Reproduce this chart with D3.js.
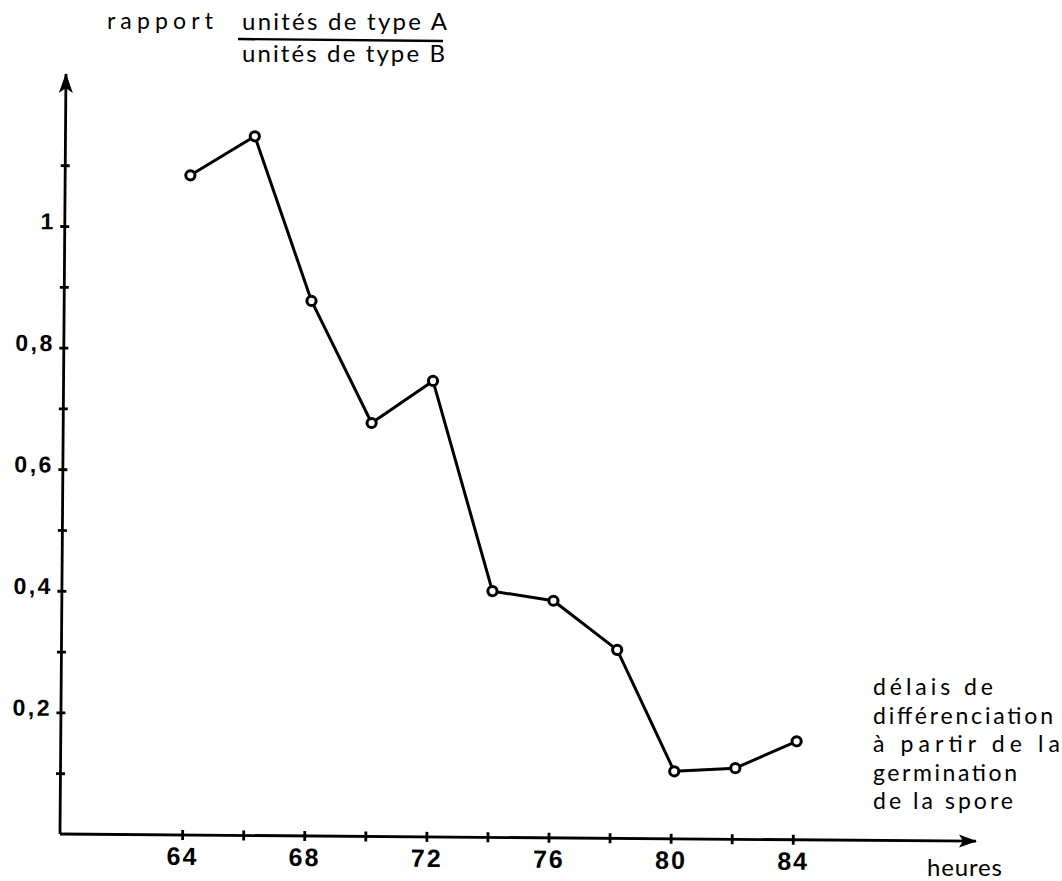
<!DOCTYPE html>
<html>
<head>
<meta charset="utf-8">
<script src="https://cdn.jsdelivr.net/npm/d3@7"></script>
<style>
  html, body { margin: 0; padding: 0; background: #fff; }
  svg { display: block; }
</style>
</head>
<body>
<svg id="chart" width="1062" height="881"></svg>
<script>
// ---- data ----
const hours  = [64.1, 66.2, 68.1, 70.1, 72.1, 74.1, 76.1, 78.2, 80.1, 82.1, 84.1];
const ratios = [1.085, 1.15, 0.88, 0.68, 0.75, 0.405, 0.39, 0.31, 0.111, 0.117, 0.162];
const xTicks  = [64, 66, 68, 70, 72, 74, 76, 78, 80, 82, 84];
const xLabels = [64, 68, 72, 76, 80, 84];
const yTicks  = [0.1, 0.2, 0.3, 0.4, 0.5, 0.6, 0.7, 0.8, 0.9, 1, 1.1];
const yLabels = [0.2, 0.4, 0.6, 0.8, 1];
const titleLeft = "rapport";
const titleNum = "unités de type A";
const titleDen = "unités de type B";
const xNoteLines = ["délais de", "différenciation", "à partir de la", "germination", "de la spore"];
const xUnit = "heures";

// ---- drawing ----
const svg = d3.select("#chart");
const ink = "#000";
const numFont = "'Liberation Sans', Arial, sans-serif";
const txtFont = "Lato, 'Noto Sans', sans-serif";

const defs = svg.append("defs");
defs.append("marker").attr("id", "arrowX")
  .attr("markerUnits", "userSpaceOnUse").attr("viewBox", "0 -7 18 14")
  .attr("markerWidth", 18).attr("markerHeight", 14)
  .attr("refX", 17).attr("refY", 0).attr("orient", "auto")
  .append("path").attr("d", "M0,-6.5L18,0L0,6.5L4,0Z").attr("fill", ink);
defs.append("marker").attr("id", "arrowY")
  .attr("markerUnits", "userSpaceOnUse").attr("viewBox", "0 -7.5 20 15")
  .attr("markerWidth", 20).attr("markerHeight", 15)
  .attr("refX", 19).attr("refY", 0).attr("orient", "auto")
  .append("path").attr("d", "M0,-7L20,0L0,7L5,0Z").attr("fill", ink);

// the scanned original is tilted slightly
const g = svg.append("g").attr("transform", "rotate(0.45,60,834)");

const x = d3.scaleLinear().domain([60, 90]).range([60, 976]);
const y = d3.scaleLinear().domain([0, 1.25]).range([834, 74]);

// x axis
const gx = g.append("g").attr("transform", `translate(0,${y(0)})`)
  .call(d3.axisBottom(x).tickValues(xTicks).tickSize(0).tickSizeOuter(0)
    .tickFormat(d => xLabels.includes(d) ? String(d) : ""));
gx.attr("font-size", null).attr("font-family", null);
gx.select(".domain")
  .attr("d", `M${x(60)},0H${x(90)}`)
  .attr("stroke", ink).attr("stroke-width", 2.8)
  .attr("marker-end", "url(#arrowX)");
gx.selectAll(".tick line").attr("y1", -5).attr("y2", 5)
  .attr("stroke", ink).attr("stroke-width", 2.8);
gx.selectAll(".tick text")
  .attr("y", 30).attr("dy", 0)
  .attr("fill", ink)
  .style("font-family", numFont).style("font-size", "25px")
  .style("font-weight", "bold").style("letter-spacing", "2px");

// y axis
const gy = g.append("g").attr("transform", `translate(${x(60)},0)`)
  .call(d3.axisLeft(y).tickValues(yTicks).tickSize(0).tickSizeOuter(0)
    .tickFormat(d => yLabels.includes(d) ? String(d).replace(".", ",") : ""));
gy.attr("font-size", null).attr("font-family", null);
gy.select(".domain")
  .attr("d", `M0,${y(0)}V${y(1.25)}`)
  .attr("stroke", ink).attr("stroke-width", 2.8)
  .attr("marker-end", "url(#arrowY)");
gy.selectAll(".tick line").attr("x1", -4.5).attr("x2", 4.5)
  .attr("stroke", ink).attr("stroke-width", 2.8);
gy.selectAll(".tick text")
  .attr("x", -9).attr("y", 3).attr("dy", 0)
  .attr("text-anchor", "end")
  .attr("fill", ink)
  .style("font-family", numFont).style("font-size", "23px")
  .style("font-weight", "bold").style("letter-spacing", "2.5px");

// series
const data = hours.map((h, i) => ({ h, v: ratios[i] }));
g.append("path").datum(data)
  .attr("fill", "none").attr("stroke", ink).attr("stroke-width", 3)
  .attr("stroke-linejoin", "round")
  .attr("d", d3.line().x(d => x(d.h)).y(d => y(d.v)));
g.selectAll("circle.pt").data(data).join("circle")
  .attr("class", "pt")
  .attr("cx", d => x(d.h)).attr("cy", d => y(d.v)).attr("r", 4.6)
  .attr("fill", "#fff").attr("stroke", ink).attr("stroke-width", 3);

// titles
const t = svg.append("g").attr("fill", ink).style("font-family", txtFont);
t.append("text").attr("x", 107).attr("y", 29)
  .attr("textLength", 106).attr("lengthAdjust", "spacing")
  .style("font-size", "23px").text(titleLeft);
t.append("text").attr("x", 242).attr("y", 30)
  .attr("textLength", 205).attr("lengthAdjust", "spacing")
  .style("font-size", "24px").text(titleNum);
t.append("line").attr("x1", 238).attr("y1", 39).attr("x2", 443).attr("y2", 41)
  .attr("stroke", ink).attr("stroke-width", 2.4);
t.append("text").attr("x", 242).attr("y", 62)
  .attr("textLength", 203).attr("lengthAdjust", "spacing")
  .style("font-size", "24px").text(titleDen);

const noteLen = [120, 180, 187, 144, 140];
xNoteLines.forEach((s, i) => {
  t.append("text").attr("x", 873).attr("y", 695 + i * 28.5)
    .attr("textLength", noteLen[i]).attr("lengthAdjust", "spacing")
    .style("font-size", "23px").text(s);
});
t.append("text").attr("x", 927).attr("y", 876)
  .attr("textLength", 75).attr("lengthAdjust", "spacing")
  .style("font-size", "24px").text(xUnit);
</script>
</body>
</html>
